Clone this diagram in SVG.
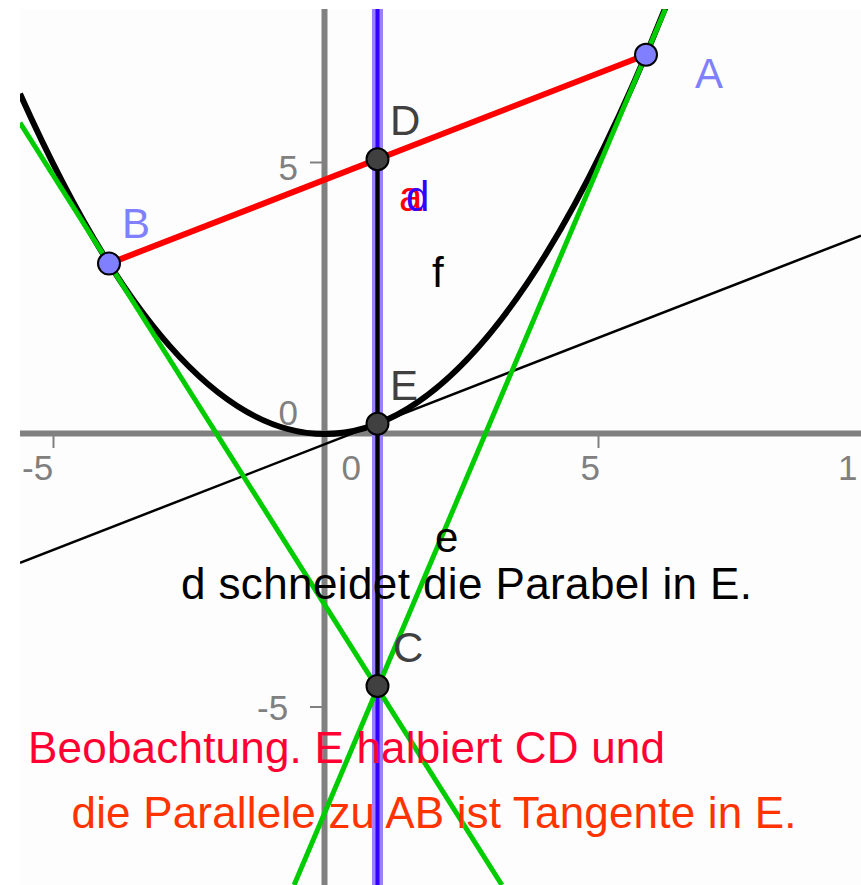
<svg xmlns="http://www.w3.org/2000/svg" width="861" height="885" viewBox="0 0 861 885">
  <style>
    text { font-family: "Liberation Sans", Arial, sans-serif; }
    .tick { fill: #808080; font-size: 35px; }
    .lbl { font-size: 42px; }
    .pt { fill: #404040; stroke: #000; stroke-width: 2; }
    .ptb { fill: #7f7fff; stroke: #000; stroke-width: 2; }
    .axis { stroke: #808080; stroke-width: 6; fill: none; }
    .tk { stroke: #808080; stroke-width: 2; }
    .big { font-size: 44px; }
  </style>
  <defs>
    <clipPath id="plot"><rect x="20" y="9" width="841" height="876"/></clipPath>
  </defs>
  <rect x="0" y="0" width="861" height="885" fill="#ffffff"/>
  <rect x="20" y="9" width="841" height="876" fill="#fdfdfd"/>

  <g id="axes">
    <line class="axis" x1="20" y1="433.5" x2="861" y2="433.5"/>
    <line class="axis" x1="324.5" y1="9" x2="324.5" y2="885"/>
    <line class="tk" x1="53.5" y1="436" x2="53.5" y2="448"/>
    <line class="tk" x1="598.5" y1="436" x2="598.5" y2="448"/>
    <line class="tk" x1="310" y1="162.5" x2="322" y2="162.5"/>
    <line class="tk" x1="310" y1="707" x2="322" y2="707"/>
    <text class="tick" x="22" y="480">-5</text>
    <text class="tick" x="341.5" y="480">0</text>
    <text class="tick" x="580.5" y="480">5</text>
    <text class="tick" x="838" y="480">1</text>
    <text class="tick" x="278.5" y="425">0</text>
    <text class="tick" x="278.5" y="180">5</text>
    <text class="tick" x="257" y="720">-5</text>
  </g>

  <g id="connectors" clip-path="url(#plot)" fill="none">
    <path id="f" d="M 20 93.7 Q 344.75 819.5 669.5 -2.8" stroke="#000" stroke-width="6"/>
    <line id="e" x1="20" y1="562.8" x2="861" y2="235.6" stroke="#000" stroke-width="2.5"/>
    <line id="d-halo" x1="377.5" y1="9" x2="377.5" y2="885" stroke="#9980ff" stroke-width="11"/>
    <line id="d" x1="377.5" y1="9" x2="377.5" y2="885" stroke="#3300ff" stroke-width="4"/>
    <line id="tA" x1="665.4" y1="9" x2="294.1" y2="885" stroke="#00cc00" stroke-width="5"/>
    <line id="tB" x1="20" y1="122.8" x2="501.9" y2="885" stroke="#00cc00" stroke-width="5"/>
    <line id="a" x1="109" y1="263.6" x2="646" y2="54.7" stroke="#ff0000" stroke-width="6"/>
    <line id="CD" x1="377.5" y1="159.2" x2="377.5" y2="687" stroke="#000" stroke-width="4"/>
  </g>

  <g id="node-A">
    <circle class="ptb" cx="646" cy="54.7" r="11"/>
    <text class="lbl" x="695" y="88" fill="#8080ff">A</text>
  </g>
  <g id="node-B">
    <circle class="ptb" cx="109" cy="263.6" r="11"/>
    <text class="lbl" x="122" y="238" fill="#8080ff">B</text>
  </g>
  <g id="node-D">
    <circle class="pt" cx="377.5" cy="159.2" r="11"/>
    <text class="lbl" x="390" y="135" fill="#404040">D</text>
  </g>
  <g id="node-E">
    <circle class="pt" cx="377.5" cy="423.7" r="11"/>
    <text class="lbl" x="390" y="400" fill="#404040">E</text>
  </g>
  <g id="node-C">
    <circle class="pt" cx="377.5" cy="686" r="11"/>
    <text class="lbl" x="393" y="662" fill="#404040">C</text>
  </g>

  <g id="labels">
    <text class="lbl" x="432" y="287" fill="#000">f</text>
    <text class="lbl" x="435" y="552" fill="#000">e</text>
    <text class="lbl" x="399" y="211" fill="#ff0000">a</text>
    <text class="lbl" x="406" y="211" fill="#3300ff">d</text>
  </g>

  <g id="texts">
    <text class="big" x="181" y="599" fill="#000" textLength="571" lengthAdjust="spacing">d schneidet die Parabel in E.</text>
    <text class="big" x="28" y="763" fill="#ff0033" textLength="637" lengthAdjust="spacing">Beobachtung. E halbiert CD und</text>
    <text class="big" x="71.5" y="828" fill="#ff3300" textLength="725" lengthAdjust="spacing">die Parallele zu AB ist Tangente in E.</text>
  </g>
</svg>
